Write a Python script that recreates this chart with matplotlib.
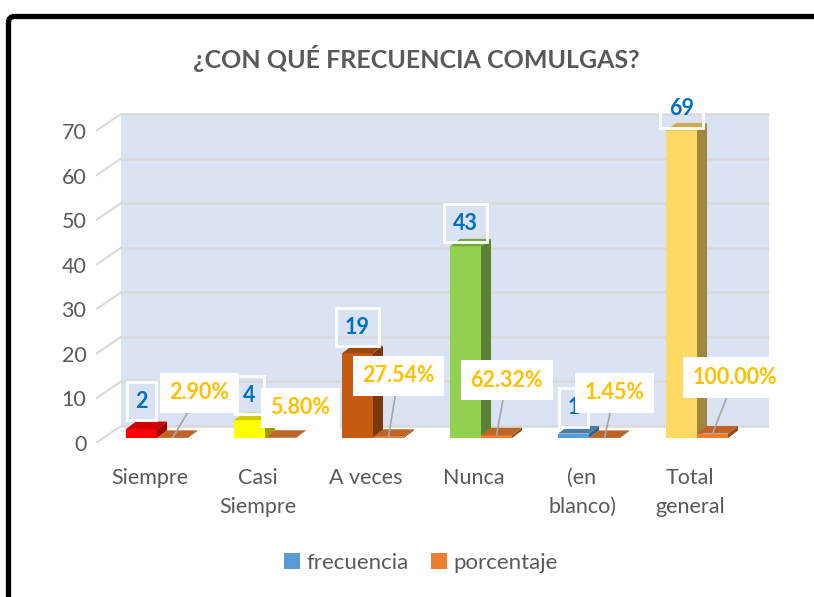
import matplotlib
matplotlib.use('Agg')
import matplotlib.pyplot as plt
from matplotlib.patches import Polygon, FancyBboxPatch, Patch
from matplotlib.transforms import IdentityTransform
import matplotlib.colors as mcolors

# ---------------- data ----------------
categories = ['Siempre', 'Casi\nSiempre', 'A veces', 'Nunca', '(en\nblanco)', 'Total\ngeneral']
frecuencia = [2, 4, 19, 43, 1, 69]
porcentaje = [0.0290, 0.0580, 0.2754, 0.6232, 0.0145, 1.0000]
freq_colors = ['#FF0000', '#FFFF00', '#C55A11', '#92D050', '#5B9BD5', '#FFD966']
pct_color = '#ED7D31'
legend_labels = ['frecuencia', 'porcentaje']
legend_colors = ['#5B9BD5', '#ED7D31']
yticks = [0, 10, 20, 30, 40, 50, 60, 70]
title = '¿CON QUÉ FRECUENCIA COMULGAS?'

# ---------------- layout / style ----------------
W, H = 814, 597
PX_X, PX_Y = 108.0, 4.457          # pixels per category / per value unit
FONT = 'Lato'
GRAY = '#595959'
fig = plt.figure(figsize=(W / 100, H / 100), dpi=100)
fig.patch.set_facecolor('white')

ax_left, ax_right, ax_bottom, ax_top = 96, 770, 443, 113   # pixel coords (from top)
ax = fig.add_axes([ax_left / W, (H - ax_bottom) / H,
                   (ax_right - ax_left) / W, (ax_bottom - ax_top) / H])
x0_data = -0.5
ax.set_xlim(x0_data, x0_data + (ax_right - ax_left) / PX_X)
ax.set_ylim(0, (ax_bottom - ax_top) / PX_Y)
for s in ax.spines.values():
    s.set_visible(False)
ax.patch.set_alpha(0)

wall_d = (25 / PX_X, 17 / PX_Y)        # full depth of the floor
bar_base = 5 / PX_Y                    # bars sit a little behind the front edge
bar_d = (10 / PX_X, 7.5 / PX_Y)        # bar depth
n = len(categories)

# back wall
bx0, bx1 = -0.5 + wall_d[0], n - 0.5 + wall_d[0]
by0, by1 = wall_d[1], yticks[-1] + wall_d[1]
ax.add_patch(Polygon([(bx0, by0), (bx1, by0), (bx1, by1), (bx0, by1)],
                     closed=True, fc='#DAE3F3', ec='none', zorder=0))
grid_c = '#D9D9D9'
for v in yticks:
    ax.plot([bx0, bx1], [v + wall_d[1], v + wall_d[1]], color=grid_c, lw=1.8, zorder=1,
            solid_capstyle='butt')
    ax.plot([-0.5, bx0], [v, v + wall_d[1]], color=grid_c, lw=1.5, zorder=1)


def shade(c, f):
    r, g, b = mcolors.to_rgb(c)
    return (r * f, g * f, b * f)


def bar3d(x, w, h, color, z):
    y0 = bar_base
    dx, dy = bar_d
    ax.bar(x, h, width=w, bottom=y0, align='edge', color=color, edgecolor='none', zorder=z)
    ax.add_patch(Polygon([(x + w, y0), (x + w + dx, y0 + dy), (x + w + dx, y0 + h + dy), (x + w, y0 + h)],
                         closed=True, fc=shade(color, 0.62), ec='none', zorder=z))
    ax.add_patch(Polygon([(x, y0 + h), (x + w, y0 + h), (x + w + dx, y0 + h + dy), (x + dx, y0 + h + dy)],
                         closed=True, fc=shade(color, 0.8), ec='none', zorder=z))


bw = 0.287
f_off = -0.222
for i in range(n):
    bar3d(i + f_off, bw, frecuencia[i], freq_colors[i], 3 + i * 0.1)
    bar3d(i + f_off + bw, bw, porcentaje[i], pct_color, 3.05 + i * 0.1)

# axis ticks
ax.set_yticks(yticks)
ax.set_yticklabels([str(v) for v in yticks], fontsize=15.5, color=GRAY, family=FONT)
ax.set_xticks(range(n))
ax.set_xticklabels(categories, fontsize=15.5, color=GRAY, family=FONT, linespacing=1.55)
ax.tick_params(axis='both', length=0)
ax.tick_params(axis='y', pad=7)
ax.tick_params(axis='x', pad=18)

# data labels
lbl_fs = 15.5
box_f = dict(boxstyle='square,pad=0.4', fc='none', ec='white', lw=2)
box_p = dict(boxstyle='square,pad=0.45', fc='white', ec='none')
pct_offsets_px = [(27, 45), (20, 30), (10, 61), (10, 55), (10, 45), (22, 56)]
freq_lift_px = [28, 25, 26, 23, 26, 22]
for i in range(n):
    top = bar_base + frecuencia[i]
    ax.annotate(str(frecuencia[i]), xy=(i + f_off + bw / 2, top), xytext=(0, freq_lift_px[i] * 0.72),
                textcoords='offset points', ha='center', va='center', fontsize=lbl_fs,
                fontweight='bold', color='#0070C0', family=FONT, bbox=box_f, zorder=10)
    ptop = bar_base + porcentaje[i]
    ox, oy = pct_offsets_px[i]
    arrow = dict(arrowstyle='-', color='#A6A6A6', lw=1.2, shrinkA=0, shrinkB=0) if oy > 35 else None
    ax.annotate(f'{porcentaje[i] * 100:.2f}%', xy=(i + f_off + bw * 1.5, ptop),
                xytext=(ox * 0.72, oy * 0.72), textcoords='offset points', ha='center', va='center',
                fontsize=lbl_fs, fontweight='bold', color='#FFC000', family=FONT, bbox=box_p,
                arrowprops=arrow, zorder=10)

# title
fig.text(416 / W, 1 - 58 / H, title, ha='center', va='center', fontsize=18,
         fontweight='bold', color=GRAY, family=FONT)

# legend
handles = [Patch(facecolor=c, edgecolor='none') for c in legend_colors]
leg = fig.legend(handles, legend_labels, loc='center', bbox_to_anchor=(421 / W, 1 - 563 / H),
                 ncol=2, frameon=False, handlelength=0.7, handleheight=0.7, handletextpad=0.3,
                 columnspacing=1.0, prop={'family': FONT, 'size': 16})
for t in leg.get_texts():
    t.set_color(GRAY)

# outer black frame (extends beyond right & bottom edges)
frame = FancyBboxPatch((8.5, -40), 900, (H - 16.5) + 40,
                       boxstyle='round,pad=0,rounding_size=6', transform=IdentityTransform(),
                       fill=False, ec='black', lw=3.8)
fig.patches.append(frame)

fig.savefig('out.png', dpi=100)
